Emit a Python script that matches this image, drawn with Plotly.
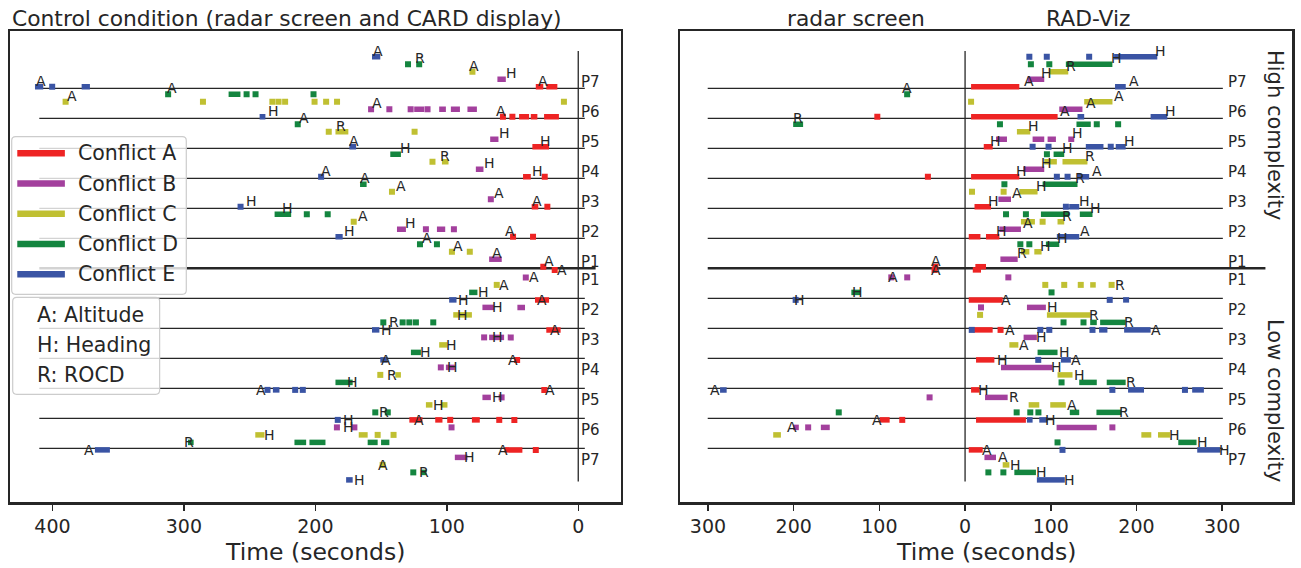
import plotly.graph_objects as go

# ---------------- data ----------------
CONFLICTS = ["A", "B", "C", "D", "E"]
CONFLICT_NAMES = ["Conflict A", "Conflict B", "Conflict C", "Conflict D", "Conflict E"]
COLORS = ["#ee2424", "#a3409d", "#c0c032", "#14853f", "#3a54a4"]
PARTICIPANTS = ["P1", "P2", "P3", "P4", "P5", "P6", "P7"]
ACTION_KEY = ["A: Altitude", "H: Heading", "R: ROCD"]
X_TICKS_CTRL = [400, 300, 200, 100, 0]
X_TICKS_RV = [-300, -200, -100, 0, 100, 200, 300]
PANEL_TITLES = ["Control condition (radar screen and CARD display)", "radar screen", "RAD-Viz"]
SIDE_LABELS = ["High complexity", "Low complexity"]
X_TITLE = "Time (seconds)"

# rows: "H7" = high complexity P7, "L3" = low complexity P3 ; (row, start, end) in seconds
CTRL_A = [("H7", 32.3, 26.6), ("H7", 24.3, 15.9),
          ("H6", 58.9, 55.7), ("H6", 51.9, 48.3), ("H6", 45, 37.4), ("H6", 36.1, 31.1), ("H6", 26, 14.7),
          ("H5", 34.9, 22.2), ("H4", 42, 36.1), ("H4", 25.5, 25.5),
          ("H3", 35.4, 30.4), ("H3", 23.5, 23.5), ("H2", 49.6, 49.6), ("H2", 34.4, 34.4),
          ("H1", 26.6, 26.6), ("L1", 17.9, 17.9), ("L2", 32.9, 22.2), ("L3", 24.3, 13.4),
          ("L4", 48, 45), ("L5", 27.3, 24.3),
          ("L6", 128.5, 118.5), ("L6", 108.8, 103.3), ("L6", 98.7, 96.1), ("L6", 80.9, 74.9),
          ("L6", 62, 58.2), ("L6", 50.1, 47.1),
          ("L7", 56, 42.5), ("L7", 32.3, 32.3)]
CTRL_B = [("H7", 61.5, 55.1),
          ("H6", 157.6, 157.6), ("H6", 143.7, 143.7), ("H6", 129, 126), ("H6", 124.8, 117.2),
          ("H6", 115.9, 113.4), ("H6", 105.8, 100.7), ("H6", 96.9, 90), ("H6", 84.3, 77.1),
          ("H5", 67, 60.7), ("H4", 77.9, 72.1), ("H3", 66.5, 66.5),
          ("H2", 137.9, 131.1), ("H2", 115.9, 115.9), ("H2", 107.5, 101.2), ("H2", 94.6, 94.6),
          ("H1", 67.8, 58.2), ("L1", 39.9, 39.9), ("L2", 72.9, 64), ("L2", 46.3, 40.5),
          ("L3", 72.9, 70.3), ("L3", 67.8, 56.4), ("L3", 52.6, 50.1),
          ("L4", 105.8, 103.3), ("L4", 100.7, 93.9), ("L5", 72.9, 66.5), ("L5", 60.2, 56.4),
          ("L6", 185.5, 181.7), ("L6", 170.3, 170.3), ("L6", 96.4, 96.4), ("L7", 93.9, 84.3)]
CTRL_C = [("H7", 80.5, 80.5),
          ("H6", 390, 390), ("H6", 285.5, 285.5), ("H6", 232.7, 232.7), ("H6", 228, 228), ("H6", 223, 223),
          ("H6", 200.6, 200.6), ("H6", 191.8, 191.8), ("H6", 183.5, 183.5), ("H6", 10.9, 10.9),
          ("H5", 189.8, 189.8), ("H5", 184.7, 174.9), ("H5", 124.5, 124.5),
          ("H4", 110.9, 110.9), ("H4", 103.7, 98.7), ("H3", 141.7, 141.7), ("H2", 170.8, 170.8),
          ("H1", 96.1, 96.1), ("H1", 82.5, 82.5), ("L1", 62, 62), ("L2", 95.1, 80.9),
          ("L3", 105.8, 99.5), ("L4", 150.6, 150.6), ("L4", 139.2, 134.9),
          ("L5", 115.9, 110.9), ("L5", 104.5, 99.5),
          ("L6", 245.7, 238.7), ("L6", 167, 160.2), ("L6", 152.6, 152.6), ("L6", 140.5, 140.5),
          ("L7", 148.8, 148.8)]
CTRL_D = [("H7", 129.5, 129.5), ("H7", 123, 119),
          ("H6", 312, 312), ("H6", 266, 257), ("H6", 252.3, 252.3), ("H6", 245.5, 245.5), ("H6", 201.4, 201.4),
          ("H5", 213.4, 213.4), ("H4", 143, 134.9), ("H3", 166, 161),
          ("H2", 231, 218.4), ("H2", 206.5, 206.5), ("H2", 190.6, 190.6),
          ("H1", 120.4, 120.4), ("H1", 107.5, 107.5), ("L1", 83, 76.7),
          ("L2", 148.3, 148.3), ("L2", 133.6, 133.6), ("L2", 128.5, 128.5), ("L2", 123.5, 123.5), ("L2", 110.3, 110.3),
          ("L3", 127.3, 119.7), ("L4", 184.7, 171.6), ("L5", 154.4, 154.4), ("L5", 146.8, 143),
          ("L6", 296.9, 292.6), ("L6", 215.9, 207), ("L6", 204.5, 192.3), ("L6", 160.2, 152.6), ("L6", 150, 143.7),
          ("L7", 125.5, 125.5), ("L7", 119.7, 115.4)]
CTRL_E = [("H7", 156.9, 150.6), ("H6", 413.3, 407), ("H6", 400.2, 400.2), ("H6", 377.8, 371.5),
          ("H5", 242.4, 238), ("H4", 174.1, 169), ("H3", 195.6, 195.6), ("H2", 256.9, 256.9),
          ("H1", 184.7, 179.2), ("L1", 98.2, 92.6), ("L2", 156.9, 151.3), ("L3", 150.6, 145),
          ("L4", 237.9, 234.9), ("L4", 232.3, 227.3), ("L4", 216.6, 214.1), ("L4", 210.8, 208.3),
          ("L5", 184.7, 181.2), ("L6", 367.7, 356.3), ("L7", 176.6, 171.6)]
# (row, conflict, time, action letter)
CTRL_LABELS = [
    ("H7", "A", 31.6, "A"), ("H7", "B", 55.9, "H"), ("H7", "C", 83.5, "A"), ("H7", "D", 125.3, "R"), ("H7", "E", 157, "A"),
    ("H6", "A", 63.5, "A"), ("H6", "B", 158, "A"), ("H6", "C", 390, "A"), ("H6", "D", 313.3, "A"), ("H6", "E", 413, "A"),
    ("H5", "A", 29.8, "H"), ("H5", "B", 61, "H"), ("H5", "C", 185.3, "R"), ("H5", "D", 213, "A"), ("H5", "E", 237, "H"),
    ("H4", "A", 36.1, "H"), ("H4", "B", 72.4, "H"), ("H4", "C", 106.3, "R"), ("H4", "D", 136.7, "H"), ("H4", "E", 175, "A"),
    ("H3", "A", 36, "A"), ("H3", "B", 65, "A"), ("H3", "C", 139.2, "A"), ("H3", "D", 167, "A"), ("H3", "E", 196.5, "A"),
    ("H2", "A", 56.4, "A"), ("H2", "B", 132.5, "H"), ("H2", "C", 168, "A"), ("H2", "D", 226, "H"), ("H2", "E", 253.8, "H"),
    ("H1", "A", 26.6, "A"), ("H1", "B", 66, "A"), ("H1", "C", 96, "A"), ("H1", "D", 120, "A"), ("H1", "E", 179, "H"),
    ("L1", "A", 17, "A"), ("L1", "B", 38, "A"), ("L1", "C", 61, "A"), ("L1", "D", 76.7, "H"), ("L1", "E", 92.6, "H"),
    ("L2", "A", 32, "A"), ("L2", "B", 66, "H"), ("L2", "C", 92.8, "H"), ("L2", "D", 144.5, "R"), ("L2", "E", 151, "H"),
    ("L3", "A", 22, "A"), ("L3", "B", 66, "H"), ("L3", "C", 101, "H"), ("L3", "D", 121, "H"), ("L3", "E", 151, "A"),
    ("L4", "A", 54.4, "A"), ("L4", "B", 100.7, "H"), ("L4", "C", 146.3, "R"), ("L4", "D", 177, "H"), ("L4", "E", 246.2, "A"),
    ("L5", "A", 26, "A"), ("L5", "B", 66, "H"), ("L5", "C", 111, "H"), ("L5", "D", 152, "R"), ("L5", "E", 180, "H"),
    ("L6", "A", 126, "A"), ("L6", "B", 180, "H"), ("L6", "C", 239.5, "H"), ("L6", "D", 301, "R"), ("L6", "E", 377, "A"),
    ("L7", "A", 61.5, "A"), ("L7", "B", 88, "H"), ("L7", "C", 153, "A"), ("L7", "D", 122, "R"), ("L7", "E", 171.6, "H"),
]

# RAD-Viz condition: negative = time on radar screen, positive = time on RAD-Viz
RV_A = [("H7", 7, 63.3), ("H6", -102.4, -102.4), ("H6", 7, 108), ("H5", 21.8, 32.2),
        ("H4", -43.4, -43.4), ("H4", 7, 63.3), ("H3", 11, 30.3), ("H2", 4.3, 17.9), ("H2", 24.4, 40),
        ("H1", -34.7, -34.7), ("H1", 12, 24.4), ("L1", -35.6, -35.6), ("L1", 9, 18.6), ("L2", 4.3, 43.9),
        ("L3", 10, 32.2), ("L3", 38.9, 43.9), ("L4", 12.8, 34.2), ("L5", 7, 16.8),
        ("L6", -99.7, -88), ("L6", -73.3, -73.3), ("L6", 12.8, 71), ("L7", 4.3, 20.6)]
RV_B = [("H7", 73, 92.4), ("H6", 109.9, 137), ("H5", 36.1, 48.9), ("H5", 78.8, 92.4), ("H5", 96.3, 106),
        ("H5", 120.4, 127.4), ("H4", 68, 92.4), ("H3", 38.9, 53.6), ("H2", 40, 65.2), ("H1", 41.2, 61.4),
        ("L1", -86.1, -86.1), ("L1", -67.5, -67.5), ("L1", 50.5, 50.5), ("L2", 18.6, 18.6), ("L2", 72.2, 94.3),
        ("L3", 68.3, 83.8), ("L4", 41.9, 102.1), ("L5", -41.4, -41.4), ("L5", 23.3, 49.7),
        ("L6", -200.6, -194), ("L6", -183.1, -183.1), ("L6", -168.3, -157.9), ("L6", 106.8, 153.7),
        ("L6", 171.9, 171.9), ("L7", 22.6, 36.1)]
RV_C = [("H7", 98.3, 120.4), ("H6", 7, 7), ("H6", 139, 172), ("H5", 60.5, 76.1),
        ("H4", 92.4, 107.1), ("H4", 113.7, 142.8), ("H3", 8.1, 8.1), ("H3", 45, 45), ("H3", 63.3, 84.6),
        ("H2", 65.2, 81.5), ("H2", 90.5, 90.5), ("H2", 107.9, 115.7), ("H1", 65.2, 75), ("H1", 80.8, 89.3),
        ("L1", 93.6, 93.6), ("L1", 115.7, 115.7), ("L1", 135, 135), ("L1", 146, 152.5), ("L1", 168.1, 173.9),
        ("L2", 17.5, 17.5), ("L2", 95.5, 146.7), ("L3", 51.7, 62.2), ("L4", 107.9, 125.4),
        ("L5", 74.2, 86.6), ("L5", 99.4, 117.6), ("L6", -223.9, -214.9), ("L6", 205.7, 217.3),
        ("L6", 225.1, 239.1), ("L7", 43.9, 51.7)]
RV_D = [("H7", 76.8, 76.8), ("H7", 98.3, 98.3), ("H7", 117.6, 171.9), ("H6", -70.5, -64.7),
        ("H5", -200.6, -189), ("H5", 40.7, 40.7), ("H5", 130, 146.7), ("H5", 153.7, 153.7), ("H5", 178.6, 178.6),
        ("H4", 95.5, 95.5), ("H4", 103.3, 115.7), ("H3", 45.9, 45.9), ("H3", 90.5, 131.2),
        ("H2", 47.8, 47.8), ("H2", 71, 71), ("H2", 88.5, 121.5), ("H2", 133.9, 148.7),
        ("H1", 64.5, 64.5), ("H1", 75, 75), ("H1", 94.3, 109.9), ("L1", -132.7, -122.2), ("L1", 100.9, 100.9),
        ("L2", 114.9, 114.9), ("L2", 138.2, 138.2), ("L2", 146, 153.7), ("L2", 157.6, 187.4),
        ("L3", 84.6, 107.9), ("L4", 112.6, 112.6), ("L4", 133.2, 153.7), ("L4", 165.3, 187.4),
        ("L5", -147.4, -147.4), ("L5", 60.2, 60.2), ("L5", 76.1, 76.1), ("L5", 82.7, 88.5),
        ("L5", 122.2, 133.2), ("L5", 153.3, 182.4), ("L6", 107.9, 107.9), ("L6", 248.8, 270.1),
        ("L7", 27.2, 27.2), ("L7", 44.7, 44.7), ("L7", 57.5, 82.7)]
RV_E = [("H7", 75, 75), ("H7", 92.4, 98.3), ("H7", 144.8, 144.8), ("H7", 173.9, 224.3), ("H6", 175, 187.5),
        ("H5", 131.2, 139), ("H5", 216.5, 236), ("H4", 78.8, 78.8), ("H4", 97.4, 97.4), ("H4", 140.9, 161.5),
        ("H4", 170, 170), ("H4", 175.8, 187.4), ("H3", 107.1, 107.1), ("H3", 119.6, 119.6), ("H3", 131.2, 144.8),
        ("H2", 114.9, 120.4), ("H2", 121.5, 133.2), ("H1", 107.1, 133.2),
        ("L1", -200.6, -194.8), ("L1", 168.8, 168.8), ("L1", 184.4, 191.4),
        ("L2", 7.8, 7.8), ("L2", 87.8, 87.8), ("L2", 98.3, 98.3), ("L2", 148.7, 148.7), ("L2", 156.4, 166.1),
        ("L2", 185.6, 216.5), ("L3", 85.4, 85.4), ("L3", 111.8, 123.4),
        ("L4", -285.9, -278.2), ("L4", 171.9, 171.9), ("L4", 190.2, 208.8), ("L4", 256.6, 256.6), ("L4", 265, 278.7),
        ("L5", 72.2, 78.8), ("L5", 86.6, 96.3), ("L6", 113.7, 113.7), ("L6", 270.9, 298), ("L7", 83.8, 116.4)]
RV_LABELS = [
    ("H7", "A", 67.2, "A"), ("H7", "B", 87.8, "H"), ("H7", "C", 117, "R"), ("H7", "D", 169, "H"), ("H7", "E", 221, "H"),
    ("H6", "A", 109.5, "A"), ("H6", "B", 139.7, "A"), ("H6", "C", 173, "A"), ("H6", "D", -75.2, "A"), ("H6", "E", 190, "A"),
    ("H5", "A", 28.4, "H"), ("H5", "B", 123.4, "H"), ("H5", "C", 72, "H"), ("H5", "D", -201.4, "R"), ("H5", "E", 232, "H"),
    ("H4", "A", 58.7, "H"), ("H4", "B", 87.8, "H"), ("H4", "C", 138.2, "R"), ("H4", "D", 112, "H"), ("H4", "E", 184.4, "H"),
    ("H3", "A", 25.6, "H"), ("H3", "B", 53.2, "A"), ("H3", "C", 81.5, "H"), ("H3", "D", 127.4, "R"), ("H3", "E", 146.7, "A"),
    ("H2", "A", 35, "H"), ("H2", "B", 66, "A"), ("H2", "C", 111.8, "R"), ("H2", "D", 144.8, "H"), ("H2", "E", 131.2, "H"),
    ("H1", "A", -41.5, "A"), ("H1", "B", 59.4, "R"), ("H1", "C", 85.8, "H"), ("H1", "D", 106, "H"), ("H1", "E", 132.4, "A"),
    ("L1", "A", -41.5, "A"), ("L1", "B", -90.8, "A"), ("L1", "C", 173.9, "R"), ("L1", "D", -132.7, "H"), ("L1", "E", -200.6, "H"),
    ("L2", "A", 41.2, "A"), ("L2", "B", 94.3, "H"), ("L2", "C", 143.6, "R"), ("L2", "D", 184.7, "R"), ("L2", "E", 215.8, "A"),
    ("L3", "A", 45.9, "A"), ("L3", "B", 81.5, "H"), ("L3", "C", 62, "A"), ("L3", "D", 107.9, "H"), ("L3", "E", 123, "A"),
    ("L4", "A", 36.1, "H"), ("L4", "B", 99.4, "H"), ("L4", "C", 125.4, "H"), ("L4", "D", 187, "R"), ("L4", "E", -298.7, "A"),
    ("L5", "A", 14, "H"), ("L5", "B", 49.7, "R"), ("L5", "C", 117.6, "A"), ("L5", "D", 178.6, "R"), ("L5", "E", 91.6, "H"),
    ("L6", "A", -109.4, "A"), ("L6", "B", -208.4, "A"), ("L6", "C", 237, "H"), ("L6", "D", 269, "H"), ("L6", "E", 295, "H"),
    ("L7", "A", 18.6, "A"), ("L7", "B", 37.8, "A"), ("L7", "C", 50.9, "H"), ("L7", "D", 81.5, "H"), ("L7", "E", 114, "H"),
]

# ---------------- layout constants ----------------
W, H = 1301, 568
ML, MR, MT, MB = 10, 6, 31, 66
PW, PH = W - ML - MR, H - MT - MB
DOM1 = [0, (622 - ML) / PW]
DOM2 = [(681.7 - ML) / PW, 1]
XR1 = [432.3, -32.2]
XR2 = [-332.5, 381.5]
YR = [-7.79, 7.91]
INK = "#262626"
FONT = "DejaVu Sans"
PXU = {"x": (DOM1[1] - DOM1[0]) * PW / abs(XR1[0] - XR1[1]),
       "x2": (DOM2[1] - DOM2[0]) * PW / abs(XR2[0] - XR2[1])}


def px2paper(px, py):
    return (px - ML) / PW, (H - MB - py) / PH


def row_base(row):
    k = int(row[1:])
    return (k - 1) if row[0] == "H" else -(k - 1)


def lane(row, ci):
    off = 0.053 + 0.25 * ci
    b = row_base(row)
    return b + off if row[0] == "H" else b - off


fig = go.Figure()


def add_segments(segs, ci, xa, ya):
    lx, ly, dx, dy = [], [], [], []
    for row, a, b in segs:
        y = lane(row, ci)
        if abs(a - b) * PXU[xa] < 5.5:
            dx.append((a + b) / 2)
            dy.append(y)
        else:
            lx += [a, b, None]
            ly += [y, y, None]
    fig.add_trace(go.Scatter(x=lx, y=ly, mode="lines", xaxis=xa, yaxis=ya,
                             line=dict(color=COLORS[ci], width=5.5), showlegend=False, hoverinfo="skip"))
    fig.add_trace(go.Scatter(x=dx, y=dy, mode="markers", xaxis=xa, yaxis=ya,
                             marker=dict(symbol="square", size=6, color=COLORS[ci], line=dict(width=0)),
                             showlegend=False, hoverinfo="skip"))


shapes = []
annotations = []

# baselines and separators
for xa, ya, x0, x1, xthick, xp in (("x", "y", 410, -5, -13.2, -0.6), ("x2", "y2", -300.3, 300.8, 350.5, 305)):
    for k in range(1, 7):
        for sgn in (1, -1):
            shapes.append(dict(type="line", xref=xa, yref=ya, x0=x0, x1=x1, y0=sgn * k, y1=sgn * k,
                               line=dict(color=INK, width=1.3), layer="below"))
    shapes.append(dict(type="line", xref=xa, yref=ya, x0=x0, x1=xthick, y0=0, y1=0,
                       line=dict(color=INK, width=2.6), layer="below"))
    shapes.append(dict(type="line", xref=xa, yref=ya, x0=0, x1=0, y0=7.24, y1=-7.11,
                       line=dict(color=INK, width=1.3), layer="below"))
    for p in PARTICIPANTS:
        k = int(p[1:])
        annotations.append(dict(x=xp, y=(k - 1) + 0.22, xref=xa, yref=ya, text=p, showarrow=False,
                                xanchor="left", yanchor="middle", font=dict(size=15, color=INK, family=FONT)))
        annotations.append(dict(x=xp, y=-(k - 1) - 0.40, xref=xa, yref=ya, text=p, showarrow=False,
                                xanchor="left", yanchor="middle", font=dict(size=15, color=INK, family=FONT)))

for ci, segs in enumerate([CTRL_A, CTRL_B, CTRL_C, CTRL_D, CTRL_E]):
    add_segments(segs, ci, "x", "y")
for ci, segs in enumerate([RV_A, RV_B, RV_C, RV_D, RV_E]):
    add_segments(segs, ci, "x2", "y2")

for labels, xa, ya in ((CTRL_LABELS, "x", "y"), (RV_LABELS, "x2", "y2")):
    for row, conf, t, letter in labels:
        ci = CONFLICTS.index(conf)
        annotations.append(dict(x=t, y=lane(row, ci), xref=xa, yref=ya, text=letter, showarrow=False,
                                xanchor="left", yanchor="middle", xshift=-1,
                                yshift=6 if row[0] == "H" else 0,
                                font=dict(size=14, color=INK, family=FONT)))

# titles
TFS = 21.8
tx, ty = px2paper(10, 18)
annotations.append(dict(x=tx, y=ty, xref="paper", yref="paper", text=PANEL_TITLES[0], showarrow=False,
                        xanchor="left", yanchor="middle", font=dict(size=TFS, color=INK, family=FONT)))
annotations.append(dict(x=-127.5, y=px2paper(0, 18)[1], xref="x2", yref="paper", text=PANEL_TITLES[1],
                        showarrow=False, xanchor="center", yanchor="middle", font=dict(size=TFS, color=INK, family=FONT)))
annotations.append(dict(x=143, y=px2paper(0, 18)[1], xref="x2", yref="paper", text=PANEL_TITLES[2],
                        showarrow=False, xanchor="center", yanchor="middle", font=dict(size=TFS, color=INK, family=FONT)))
for dom in (DOM1, DOM2):
    annotations.append(dict(x=(dom[0] + dom[1]) / 2, y=px2paper(0, 552)[1], xref="paper", yref="paper",
                            text=X_TITLE, showarrow=False, xanchor="center", yanchor="middle",
                            font=dict(size=23.5, color=INK, family=FONT)))
for txt, cy in zip(SIDE_LABELS, (135, 401)):
    px_, py_ = px2paper(1278, cy)
    annotations.append(dict(x=px_, y=py_, xref="paper", yref="paper", text=txt, showarrow=False, textangle=90,
                            xanchor="center", yanchor="middle", font=dict(size=21, color=INK, family=FONT)))


def rounded_box(x0p, y0p, x1p, y1p, r=4):
    # pixel coords -> paper path with rounded corners
    def P(x, y):
        a, b = px2paper(x, y)
        return f"{a:.5f},{b:.5f}"
    return (f"M {P(x0p + r, y0p)} L {P(x1p - r, y0p)} Q {P(x1p, y0p)} {P(x1p, y0p + r)} "
            f"L {P(x1p, y1p - r)} Q {P(x1p, y1p)} {P(x1p - r, y1p)} L {P(x0p + r, y1p)} "
            f"Q {P(x0p, y1p)} {P(x0p, y1p - r)} L {P(x0p, y0p + r)} Q {P(x0p, y0p)} {P(x0p + r, y0p)} Z")


# legend 1: conflicts
shapes.append(dict(type="path", xref="paper", yref="paper", path=rounded_box(11.7, 136.7, 186.7, 294.3),
                   fillcolor="rgba(255,255,255,0.8)", line=dict(color="#cccccc", width=1.2), layer="above"))
for i, name in enumerate(CONFLICT_NAMES):
    cy = 153.3 + 30.25 * i
    a0, b0 = px2paper(17.3, cy)
    a1, _ = px2paper(65, cy)
    shapes.append(dict(type="line", xref="paper", yref="paper", x0=a0, x1=a1, y0=b0, y1=b0,
                       line=dict(color=COLORS[i], width=6.5), layer="above"))
    tx_, ty_ = px2paper(76.5, cy)
    annotations.append(dict(x=tx_, y=ty_, xref="paper", yref="paper", text=name, showarrow=False,
                            xanchor="left", yanchor="middle", font=dict(size=20.5, color=INK, family=FONT)))
# legend 2: action key
shapes.append(dict(type="path", xref="paper", yref="paper", path=rounded_box(12.7, 297.3, 160, 394.3),
                   fillcolor="rgba(255,255,255,0.8)", line=dict(color="#cccccc", width=1.2), layer="above"))
for i, txt in enumerate(ACTION_KEY):
    tx_, ty_ = px2paper(35, 315 + 30 * i)
    annotations.append(dict(x=tx_, y=ty_, xref="paper", yref="paper", text=txt, showarrow=False,
                            xanchor="left", yanchor="middle", font=dict(size=20.5, color=INK, family=FONT)))

axis_common = dict(showline=True, mirror=True, linecolor=INK, linewidth=2.5, showgrid=False, zeroline=False)
fig.update_layout(
    width=W, height=H, margin=dict(l=ML, r=MR, t=MT, b=MB),
    paper_bgcolor="white", plot_bgcolor="white",
    font=dict(family=FONT, color=INK),
    xaxis=dict(domain=DOM1, range=XR1, anchor="y", tickvals=X_TICKS_CTRL, ticktext=[str(v) for v in X_TICKS_CTRL],
               ticks="outside", ticklen=6, tickwidth=1.5, tickcolor=INK, tickfont=dict(size=19, color=INK),
               **axis_common),
    yaxis=dict(domain=[0, 1], range=YR, anchor="x", showticklabels=False, ticks="", **axis_common),
    xaxis2=dict(domain=DOM2, range=XR2, anchor="y2", tickvals=X_TICKS_RV, ticktext=[str(abs(v)) for v in X_TICKS_RV],
                ticks="outside", ticklen=6, tickwidth=1.5, tickcolor=INK, tickfont=dict(size=19, color=INK),
                **axis_common),
    yaxis2=dict(domain=[0, 1], range=YR, anchor="x2", showticklabels=False, ticks="", **axis_common),
    shapes=shapes, annotations=annotations, showlegend=False,
)

fig.write_html("out.html", config={"displayModeBar": False, "staticPlot": True},
               post_script="document.body.style.margin='0';document.body.style.padding='0';")
